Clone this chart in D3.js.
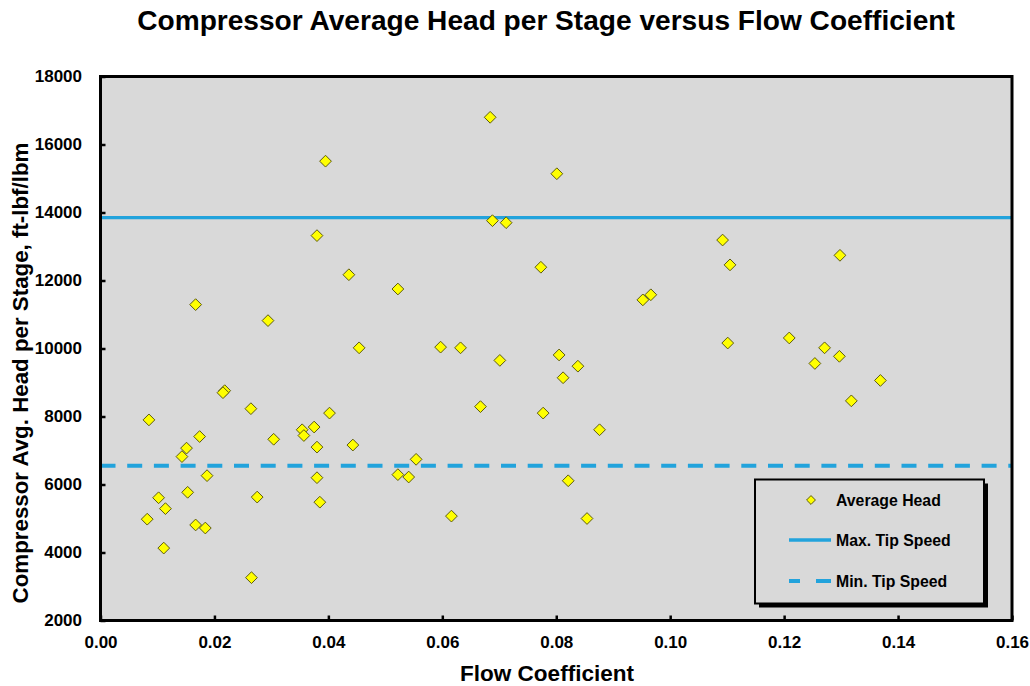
<!DOCTYPE html>
<html>
<head>
<meta charset="utf-8">
<script src="https://cdn.jsdelivr.net/npm/d3@7"></script>
<style>
  html, body { margin: 0; padding: 0; background: #ffffff; }
  svg { display: block; font-family: "Liberation Sans", Arial, sans-serif; }
</style>
</head>
<body>
<svg id="chart" width="1030" height="686"></svg>
<script>
// Flow coefficient (x) and average head per stage in ft-lbf/lbm (y) for each compressor
const flowCoef = [
  0.0395, 0.0380, 0.0436, 0.0522, 0.0167, 0.0294, 0.0454, 0.0218, 0.0215, 0.0264,
  0.0085, 0.0402, 0.0174, 0.0304, 0.0354, 0.0357, 0.0375, 0.0380, 0.0443, 0.0151,
  0.0143, 0.0187, 0.0522, 0.0380, 0.0102, 0.0153, 0.0275, 0.0114, 0.0385, 0.0082,
  0.0167, 0.0184, 0.0111, 0.0265, 0.0684, 0.0801, 0.0688, 0.0712, 0.0773, 0.0952,
  0.0966, 0.0597, 0.0632, 0.0701, 0.0805, 0.0838, 0.0812, 0.0667, 0.0777, 0.0876,
  0.0554, 0.0541, 0.0821, 0.0616, 0.0854, 0.1092, 0.1298, 0.1105, 0.1101, 0.1209,
  0.1271, 0.1297, 0.1254, 0.1369, 0.1318
];
const avgHead = [
  15510, 13320, 12170, 11750, 11290, 10820, 10020, 8760, 8700, 8230,
  7900, 8100, 7410, 7330, 7610, 7440, 7690, 7100, 7160, 7070,
  6820, 6260, 6290, 6200, 5610, 5770, 5630, 5290, 5480, 4980,
  4810, 4720, 4130, 3260, 16800, 15140, 13760, 13700, 12390, 11430,
  11580, 10040, 10020, 9650, 9810, 9480, 9140, 8290, 8100, 7610,
  6740, 6220, 6110, 5070, 5000, 13190, 12740, 12460, 10160, 10310,
  10020, 9770, 9560, 9060, 8460
];

// Head limits set by the maximum and minimum tip speeds
const maxTipHead = 13850;
const minTipHead = 6550;

const xTicks = [0.00, 0.02, 0.04, 0.06, 0.08, 0.10, 0.12, 0.14, 0.16];
const yTicks = [2000, 4000, 6000, 8000, 10000, 12000, 14000, 16000, 18000];

const titleText = "Compressor Average Head per Stage versus Flow Coefficient";
const xLabel = "Flow Coefficient";
const yLabel = "Compressor Avg. Head per Stage, ft-lbf/lbm";
const legendLabels = ["Average Head", "Max. Tip Speed", "Min. Tip Speed"];

const svg = d3.select("#chart");
const plot = { left: 100.5, right: 1012, top: 76.5, bottom: 620.5 };

const x = d3.scaleLinear().domain([0, 0.16]).range([plot.left, plot.right]);
const y = d3.scaleLinear().domain([2000, 18000]).range([plot.bottom, plot.top]);

const lineBlue = "#22a3dc";
const plotFill = "#d9d9d9";

// size a text node so that its rendered width equals the given length
function fitWidth(sel, width, base) {
  sel.attr("font-size", base);
  const w = sel.node().getComputedTextLength();
  sel.attr("font-size", base * width / w);
}

// plot area
svg.append("rect")
  .attr("x", plot.left).attr("y", plot.top)
  .attr("width", plot.right - plot.left).attr("height", plot.bottom - plot.top)
  .attr("fill", plotFill);

// tip speed limit lines
svg.append("line")
  .attr("x1", plot.left).attr("x2", plot.right)
  .attr("y1", y(maxTipHead)).attr("y2", y(maxTipHead))
  .attr("stroke", lineBlue).attr("stroke-width", 3.4);
svg.append("line")
  .attr("x1", plot.left).attr("x2", plot.right)
  .attr("y1", y(minTipHead)).attr("y2", y(minTipHead))
  .attr("stroke", lineBlue).attr("stroke-width", 4)
  .attr("stroke-dasharray", "15,11.7");

// data markers
const diamond = d3.symbol().type(d3.symbolDiamond2);
const pts = flowCoef.map((f, i) => ({ f, h: avgHead[i] }));
svg.append("g").selectAll("path")
  .data(pts)
  .join("path")
  .attr("d", diamond.size(88)())
  .attr("transform", d => `translate(${x(d.f)},${y(d.h)})`)
  .attr("fill", "#ffff00")
  .attr("stroke", "#5c5a10")
  .attr("stroke-width", 1);

// axes with inside ticks
const xAxis = d3.axisBottom(x).tickValues(xTicks).tickFormat(d3.format(".2f"))
  .tickSizeInner(-5).tickSizeOuter(0).tickPadding(15);
const yAxis = d3.axisLeft(y).tickValues(yTicks).tickFormat(d3.format("d"))
  .tickSizeInner(-5).tickSizeOuter(0).tickPadding(18.5);

const gx = svg.append("g").attr("transform", `translate(0,${plot.bottom})`).call(xAxis);
const gy = svg.append("g").attr("transform", `translate(${plot.left},0)`).call(yAxis);
[gx, gy].forEach(g => {
  g.select(".domain").remove();
  g.selectAll(".tick line").attr("stroke", "#000").attr("stroke-width", 2.5);
  g.selectAll(".tick text")
    .attr("fill", "#000")
    .attr("font-size", 17)
    .attr("font-weight", "bold")
    .attr("font-family", "'Liberation Sans', Arial, sans-serif");
});

// plot frame
svg.append("rect")
  .attr("x", plot.left).attr("y", plot.top)
  .attr("width", plot.right - plot.left).attr("height", plot.bottom - plot.top)
  .attr("fill", "none").attr("stroke", "#000").attr("stroke-width", 3);

// title and axis titles
const title = svg.append("text")
  .attr("x", 546).attr("y", 29.5)
  .attr("text-anchor", "middle")
  .attr("font-weight", "bold")
  .text(titleText);
fitWidth(title, 818, 23);

const xt = svg.append("text")
  .attr("x", 547).attr("y", 681)
  .attr("text-anchor", "middle")
  .attr("font-weight", "bold")
  .text(xLabel);
fitWidth(xt, 174, 20);

const yt = svg.append("text")
  .attr("transform", "translate(28,373) rotate(-90)")
  .attr("text-anchor", "middle")
  .attr("font-weight", "bold")
  .text(yLabel);
fitWidth(yt, 461, 20);

// legend
const lg = { x: 755, y: 479.5, w: 229, h: 124 };
svg.append("rect")
  .attr("x", lg.x + 4).attr("y", lg.y + 4)
  .attr("width", lg.w).attr("height", lg.h)
  .attr("fill", "#000");
svg.append("rect")
  .attr("x", lg.x).attr("y", lg.y)
  .attr("width", lg.w).attr("height", lg.h)
  .attr("fill", plotFill).attr("stroke", "#000").attr("stroke-width", 2);

const rowY = [500, 540, 581];
svg.append("path")
  .attr("d", diamond.size(50)())
  .attr("transform", `translate(811,${rowY[0]})`)
  .attr("fill", "#ffff00").attr("stroke", "#5c5a10").attr("stroke-width", 1);
svg.append("line")
  .attr("x1", 789).attr("x2", 831).attr("y1", rowY[1]).attr("y2", rowY[1])
  .attr("stroke", lineBlue).attr("stroke-width", 3.4);
svg.append("line")
  .attr("x1", 789).attr("x2", 831).attr("y1", rowY[2]).attr("y2", rowY[2])
  .attr("stroke", lineBlue).attr("stroke-width", 4)
  .attr("stroke-dasharray", "11,16,15");

svg.append("g").selectAll("text")
  .data(legendLabels)
  .join("text")
  .attr("x", 836)
  .attr("y", (d, i) => rowY[i])
  .attr("dy", "0.36em")
  .attr("font-size", 15.8)
  .attr("font-weight", "bold")
  .attr("fill", "#000")
  .text(d => d);
</script>
</body>
</html>
